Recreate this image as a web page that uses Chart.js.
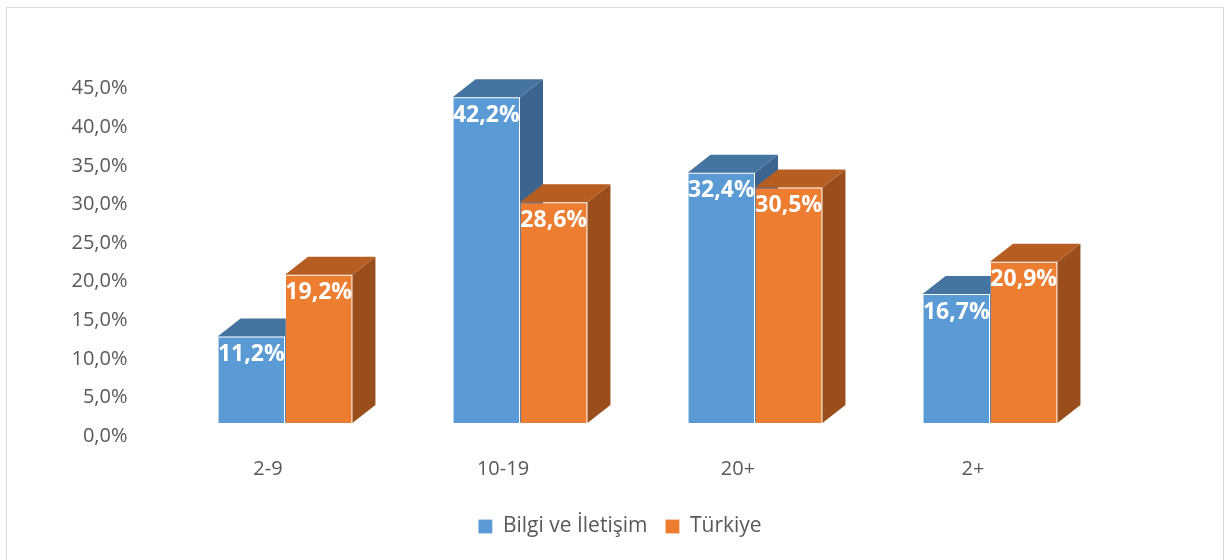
<!DOCTYPE html>
<html>
<head>
<meta charset="utf-8">
<script src="https://cdn.jsdelivr.net/npm/chart.js@4.4.0/dist/chart.umd.min.js"></script>
<style>
  body { margin: 0; background: #fff; }
  canvas { display: block; }
</style>
</head>
<body>
<canvas id="chart" width="1225" height="560"></canvas>
<script>
// Yaş grupları ve oranlar
const categories = ['2-9', '10-19', '20+', '2+'];
const bilgiValues = [11.2, 42.2, 32.4, 16.7];
const turkiyeValues = [19.2, 28.6, 30.5, 20.9];
const seriesNames = ['Bilgi ve İletişim', 'Türkiye'];

const fmt = (v) => v.toFixed(1).replace('.', ',') + '%';

// renkler: ön, üst, yan
const shades = [
    { front: '#5B9BD5', top: '#44749F', side: '#3B658F' },
    { front: '#ED7D31', top: '#B65D22', side: '#9A4E1C' }
];
const DX = 23, DY = -18;

// 3B kutu yüzeyleri (üst ve yan)
const box3d = {
    id: 'box3d',
    beforeDatasetsDraw(chart) {
        const ctx = chart.ctx;
        chart.data.datasets.forEach((ds, i) => {
            const meta = chart.getDatasetMeta(i);
            meta.data.forEach((bar) => {
                const left = bar.x - bar.width / 2;
                const right = bar.x + bar.width / 2;
                const top = bar.y;
                const base = bar.base;
                ctx.save();
                // yan yüz
                ctx.fillStyle = shades[i].side;
                ctx.beginPath();
                ctx.moveTo(right, top);
                ctx.lineTo(right + DX, top + DY);
                ctx.lineTo(right + DX, base + DY);
                ctx.lineTo(right, base);
                ctx.closePath();
                ctx.fill();
                // üst yüz
                ctx.fillStyle = shades[i].top;
                ctx.beginPath();
                ctx.moveTo(left, top);
                ctx.lineTo(left + DX, top + DY);
                ctx.lineTo(right + DX, top + DY);
                ctx.lineTo(right, top);
                ctx.closePath();
                ctx.fill();
                ctx.restore();
            });
        });
    },
    afterDatasetsDraw(chart) {
        const ctx = chart.ctx;
        ctx.save();
        ctx.fillStyle = '#FFFFFF';
        ctx.font = 'bold 23px "Open Sans"';
        ctx.textAlign = 'center';
        ctx.textBaseline = 'middle';
        chart.data.datasets.forEach((ds, i) => {
            chart.getDatasetMeta(i).data.forEach((bar, j) => {
                ctx.fillText(fmt(ds.data[j]), bar.x, bar.y + 18);
            });
        });
        ctx.restore();
    },
    afterDraw(chart) {
        const ctx = chart.ctx;
        ctx.save();
        ctx.strokeStyle = '#D9D9D9';
        ctx.lineWidth = 1;
        ctx.strokeRect(6.5, 7.5, 1217, 560);
        ctx.restore();
    }
};

const ctx = document.getElementById('chart').getContext('2d');
new Chart(ctx, {
    type: 'bar',
    data: {
        labels: categories,
        datasets: [
            {
                label: seriesNames[0],
                data: bilgiValues,
                backgroundColor: shades[0].front,
                borderColor: 'rgba(255,255,255,0.18)',
                borderWidth: 1
            },
            {
                label: seriesNames[1],
                data: turkiyeValues,
                backgroundColor: shades[1].front,
                borderColor: 'rgba(255,255,255,0.18)',
                borderWidth: 1
            }
        ]
    },
    options: {
        responsive: false,
        animation: false,
        devicePixelRatio: 1,
        categoryPercentage: 0.574,
        barPercentage: 1,
        layout: {
            padding: { left: 15, right: 0, top: 75.6, bottom: 13 }
        },
        scales: {
            x: {
                grid: { display: false, drawTicks: false },
                border: { display: false },
                ticks: {
                    color: '#595959',
                    font: { family: '"Open Sans"', size: 20 },
                    padding: 34,
                    labelOffset: -17
                },
                afterFit: (s) => { s.height = 75; }
            },
            y: {
                min: 0,
                max: 45,
                grid: { display: false, drawTicks: false },
                border: { display: false },
                ticks: {
                    stepSize: 5,
                    color: '#595959',
                    font: { family: '"Open Sans"', size: 20 },
                    padding: 40,
                    labelOffset: 13,
                    callback: (v) => fmt(v)
                },
                afterFit: (s) => { s.width = 152.5; }
            },
            // sağ boşluk için görünmez eksen
            yRight: {
                position: 'right',
                min: 0,
                max: 45,
                grid: { display: false, drawTicks: false },
                border: { display: false },
                ticks: { display: false },
                afterFit: (s) => { s.width = 117.5; }
            }
        },
        plugins: {
            legend: {
                position: 'bottom',
                labels: {
                    color: '#595959',
                    font: { family: '"Open Sans"', size: 21 },
                    boxWidth: 14,
                    boxHeight: 14,
                    padding: 18
                }
            },
            tooltip: { enabled: false }
        }
    },
    plugins: [box3d]
});
</script>
</body>
</html>
